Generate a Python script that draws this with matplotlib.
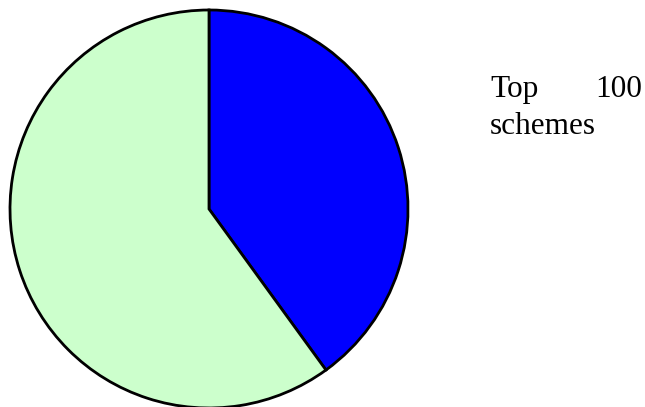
import matplotlib
matplotlib.use("Agg")
import matplotlib.pyplot as plt

labels = ["Top 100 schemes", "Others"]
values = [40, 60]
colors = ["#0000FF", "#CCFFCC"]

fig = plt.figure(figsize=(6.45, 4.07), dpi=100)
W, H = 645, 407
cx, cy, r = 209, 209, 199
ax = fig.add_axes([(cx - r) / W, (H - cy - r) / H, 2 * r / W, 2 * r / H])
ax.pie(values, colors=colors, startangle=90, counterclock=False,
       wedgeprops=dict(edgecolor="black", linewidth=2))
ax.set_xlim(-1, 1)
ax.set_ylim(-1, 1)
ax.set_aspect("equal")
ax.axis("off")

font = dict(family="Liberation Serif", fontsize=22.5, color="black")
fig.text(490 / W, 1 - 97 / H, "Top", ha="left", va="baseline", **font)
fig.text(642 / W, 1 - 97 / H, "100", ha="right", va="baseline", **font)
fig.text(490 / W, 1 - 134 / H, "schemes", ha="left", va="baseline", **font)

fig.savefig("out.png", dpi=100)
